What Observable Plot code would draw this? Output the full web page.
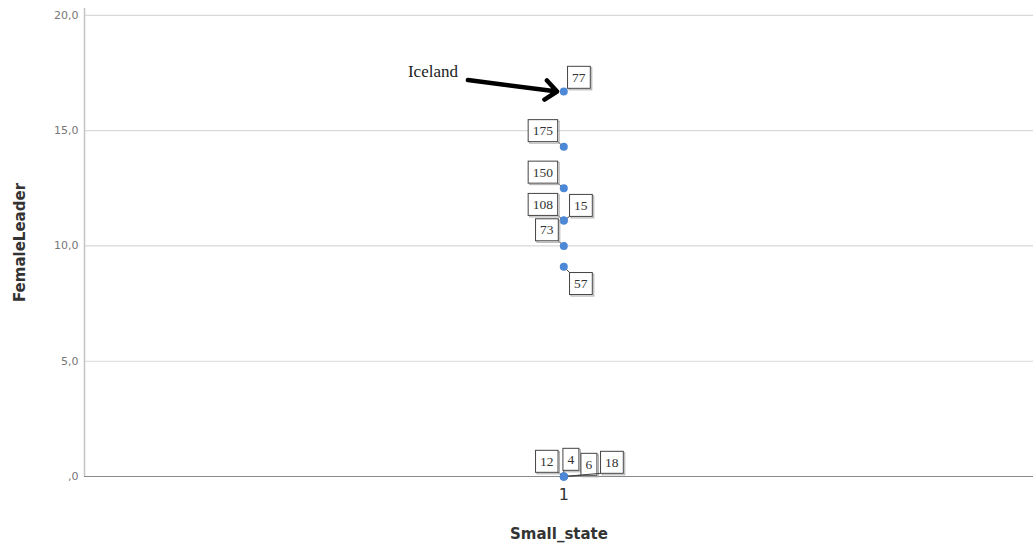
<!DOCTYPE html>
<html>
<head>
<meta charset="utf-8">
<script src="https://cdn.jsdelivr.net/npm/d3@7"></script>
<script src="https://cdn.jsdelivr.net/npm/@observablehq/plot@0.6"></script>
<style>
  html, body { margin: 0; padding: 0; background: #fff; }
  #chart svg { display: block; }
  g[aria-label="y-axis label"] text, g[aria-label="x-axis label"] text {
    font-weight: bold; font-size: 15px; fill: #333;
  }
</style>
</head>
<body>
<div id="chart"></div>
<script>
// ---- data ----
const caseIds      = [77, 175, 150, 108, 15, 73, 57, 12, 4, 6, 18];
const femaleLeader = [16.7, 14.3, 12.5, 11.1, 11.1, 10.0, 9.1, 0, 0, 0, 0];
const smallState   = [1, 1, 1, 1, 1, 1, 1, 1, 1, 1, 1];
const xTicks = [1];
const yTicks = [0, 5, 10, 15, 20];
const annotations = [{caseId: 77, text: "Iceland"}];

// ---- label placement (pixels, style only) ----
const labelOffset = {
  77: [15, -14], 175: [-21, -16], 150: [-21, -16], 108: [-21, -16], 15: [17, -15],
  73: [-17, -16], 57: [17, 17], 12: [-17, -15], 4: [7, -17], 6: [25, -12], 18: [48, -14]
};

const rows = caseIds.map((id, i) => ({id, x: smallState[i], y: femaleLeader[i]}));
const annRows = annotations.map(a => ({...rows.find(r => r.id === a.caseId), text: a.text}));

const W = 1033, H = 549;
const labelMarks = rows.map(r => Plot.text([r], {
  x: "x", y: "y", text: d => String(d.id),
  dx: labelOffset[r.id][0], dy: labelOffset[r.id][1],
  fontFamily: "Liberation Serif", fontSize: 13.5, fill: "#333",
  ariaLabel: () => "case-label"
}));

const plot = Plot.plot({
  width: W, height: H,
  marginLeft: 84, marginRight: 0, marginTop: 8, marginBottom: 73,
  style: {fontFamily: "DejaVu Sans", background: "#fff"},
  x: {domain: [0, 1.98], ticks: xTicks},
  y: {domain: [0, 20.3], ticks: yTicks},
  marks: [
    Plot.ruleY(yTicks.filter(t => t > 0), {stroke: "#d9d9d9", strokeWidth: 1.2}),
    Plot.ruleX([0], {stroke: "#c4c4c4", strokeWidth: 1.5}),
    Plot.ruleY([0], {stroke: "#8a8a8a", strokeWidth: 1.2}),
    Plot.axisY({ticks: yTicks, tickSize: 0, tickPadding: 6, fontSize: 11, fill: "#777",
      tickFormat: d => d === 0 ? ",0" : d.toFixed(1).replace(".", ","),
      label: "FemaleLeader", labelAnchor: "center", labelArrow: "none", labelOffset: 70}),
    Plot.axisX({ticks: xTicks, tickSize: 0, tickPadding: 12, fontSize: 16, fill: "#333",
      tickFormat: d => String(d),
      label: "Small_state", labelAnchor: "center", labelArrow: "none", labelOffset: 62}),
    Plot.dot(rows, {x: "x", y: "y", r: 4, fill: "#4d88d6", stroke: "none"}),
    Plot.arrow(annRows, {
      x1: d => d.x - 0.2, y1: d => d.y + 0.5, x2: d => d.x - 0.014, y2: d => d.y,
      stroke: "#000", strokeWidth: 4.5, headLength: 5, headAngle: 80, bend: 0
    }),
    Plot.text(annRows, {
      x: d => d.x - 0.2, y: d => d.y + 0.5, text: "text", dx: -35, dy: -8,
      fontFamily: "Liberation Serif", fontSize: 17, fill: "#222"
    }),
    ...labelMarks
  ]
});
document.getElementById("chart").appendChild(plot);

// draw boxes (and short leader lines) around case labels
const ns = "http://www.w3.org/2000/svg";
plot.querySelectorAll('[aria-label="case-label"]').forEach(el => {
  const texts = el.tagName.toLowerCase() === "text" ? [el] : Array.from(el.querySelectorAll("text"));
  texts.forEach(t => {
    const id = +t.textContent;
    const [odx, ody] = labelOffset[id] || [0, 0];
    const b = t.getBBox();
    const px = 4.5, py = 3.5;
    const bx = b.x - px, by = b.y - py, bw = b.width + 2 * px, bh = b.height + 2 * py;
    const tr = t.getAttribute("transform");
    const mk = (off, stroke, fill) => {
      const r = document.createElementNS(ns, "rect");
      r.setAttribute("x", bx + off);
      r.setAttribute("y", by + off);
      r.setAttribute("width", bw);
      r.setAttribute("height", bh);
      r.setAttribute("fill", fill);
      r.setAttribute("stroke", stroke);
      r.setAttribute("stroke-width", "1");
      if (tr) r.setAttribute("transform", tr);
      t.parentNode.insertBefore(r, t);
    };
    // leader line from nearest box corner toward the point
    const pxp = -odx, pyp = -ody; // point location in text-local frame
    const cx = Math.max(bx, Math.min(bx + bw, pxp));
    const cy = Math.max(by, Math.min(by + bh, pyp));
    const dist = Math.hypot(pxp - cx, pyp - cy);
    if (dist > 5) {
      const k = (dist - 4) / dist;
      const l = document.createElementNS(ns, "line");
      l.setAttribute("x1", cx); l.setAttribute("y1", cy);
      l.setAttribute("x2", cx + (pxp - cx) * k); l.setAttribute("y2", cy + (pyp - cy) * k);
      l.setAttribute("stroke", "#444"); l.setAttribute("stroke-width", "1");
      if (tr) l.setAttribute("transform", tr);
      t.parentNode.insertBefore(l, t);
    }
    mk(1.5, "#aaa", "none");
    mk(0, "#444", "#fff");
  });
});
</script>
</body>
</html>
